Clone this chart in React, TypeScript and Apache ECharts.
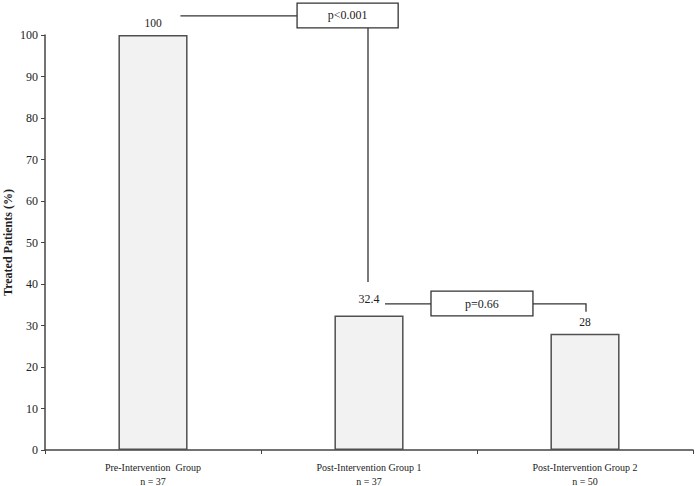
import React, { useEffect, useRef } from "react";
import * as echarts from "echarts";

const categories = ["Pre-Intervention  Group\nn = 37", "Post-Intervention Group 1\nn = 37", "Post-Intervention Group 2\nn = 50"];
const values = [100, 32.4, 28];
const labelDistances = [6, 11, 6];
const yTicks = { min: 0, max: 100, interval: 10 };
const pLabels = ["p<0.001", "p=0.66"];

const FONT = "'Liberation Serif', 'Times New Roman', serif";

export default function App() {
  const ref = useRef<HTMLDivElement>(null);
  useEffect(() => {
    if (!ref.current) return;
    const chart = echarts.init(ref.current, null, { renderer: "svg" });
    const option: any = {
      animation: false,
      grid: { left: 45, right: 2, top: 35, bottom: 36, containLabel: false, outerBoundsMode: "none" },
      xAxis: {
        type: "category",
        data: categories,
        boundaryGap: true,
        axisLine: { lineStyle: { color: "#444", width: 1.5 } },
        axisTick: { show: true, length: 4, lineStyle: { color: "#444" } },
        axisLabel: { color: "#222", fontFamily: FONT, fontSize: 10, lineHeight: 14, margin: 10, interval: 0 },
      },
      yAxis: {
        type: "value",
        min: yTicks.min,
        max: yTicks.max,
        interval: yTicks.interval,
        name: "Treated Patients (%)",
        nameLocation: "middle",
        nameGap: 31,
        nameMoveOverlap: false,
        nameTextStyle: { fontFamily: FONT, fontWeight: "bold", fontSize: 12, color: "#222" },
        axisLine: { show: true, lineStyle: { color: "#444", width: 1.5 } },
        axisTick: { show: true, length: 4, lineStyle: { color: "#444" } },
        axisLabel: { color: "#222", fontFamily: FONT, fontSize: 12, margin: 7 },
        splitLine: { show: false },
      },
      series: [
        {
          type: "bar",
          barWidth: "32%",
          data: values.map((v, i) => ({
            value: v,
            label: { show: true, position: "top", distance: labelDistances[i], formatter: String(v), fontFamily: FONT, fontSize: i === 1 ? 12 : 11.5, color: "#222" },
          })),
          itemStyle: { color: "#f2f2f2", borderColor: "#505050", borderWidth: 1.5 },
        },
      ],
    };
    chart.setOption(option);

    const px = (c: number, v: number) => chart.convertToPixel({ xAxisIndex: 0, yAxisIndex: 0 }, [c, v]) as number[];
    const x0 = px(0, 0)[0];
    const x1 = px(1, 0)[0];
    const x2 = px(2, 0)[0];
    const bw = x1 - x0;
    const y = (v: number) => px(0, v)[1];
    const lineStyle = { stroke: "#333", lineWidth: 1.3 };

    // Bracket 1
    const b1L = x1 - 0.333 * bw, b1R = x1 + 0.135 * bw;
    const b1T = y(107.7), b1B = y(101.7), b1M = y(104.6);
    // Bracket 2
    const b2L = x1 + 0.287 * bw, b2R = x1 + 0.759 * bw;
    const b2T = y(38.3), b2B = y(32.3), b2M = y(35.2);

    const graphic = [
      { type: "line", shape: { x1: x0 + 0.127 * bw, y1: b1M, x2: b1L, y2: b1M }, style: lineStyle },
      { type: "rect", shape: { x: b1L, y: b1T, width: b1R - b1L, height: b1B - b1T }, style: { fill: "#fff", stroke: "#333", lineWidth: 1.3 } },
      { type: "text", x: (b1L + b1R) / 2, y: (b1T + b1B) / 2, style: { text: pLabels[0], fontFamily: FONT, fontSize: 12, fill: "#222", align: "center", verticalAlign: "middle" } },
      { type: "line", shape: { x1: x1 - 1, y1: b1B, x2: x1 - 1, y2: y(40.5) }, style: lineStyle },
      { type: "line", shape: { x1: x1 + 0.074 * bw, y1: b2M, x2: b2L, y2: b2M }, style: lineStyle },
      { type: "rect", shape: { x: b2L, y: b2T, width: b2R - b2L, height: b2B - b2T }, style: { fill: "#fff", stroke: "#333", lineWidth: 1.3 } },
      { type: "text", x: (b2L + b2R) / 2, y: (b2T + b2B) / 2, style: { text: pLabels[1], fontFamily: FONT, fontSize: 12, fill: "#222", align: "center", verticalAlign: "middle" } },
      { type: "polyline", shape: { points: [[b2R, b2M], [x2 + 1, b2M], [x2 + 1, y(33.3)]] }, style: { ...lineStyle, fill: "none" } },
    ];
    chart.setOption({ graphic });
    return () => chart.dispose();
  }, []);
  return <div ref={ref} style={{ position: "fixed", left: 0, top: 0, width: 695, height: 486, background: "#fff" }} />;
}
